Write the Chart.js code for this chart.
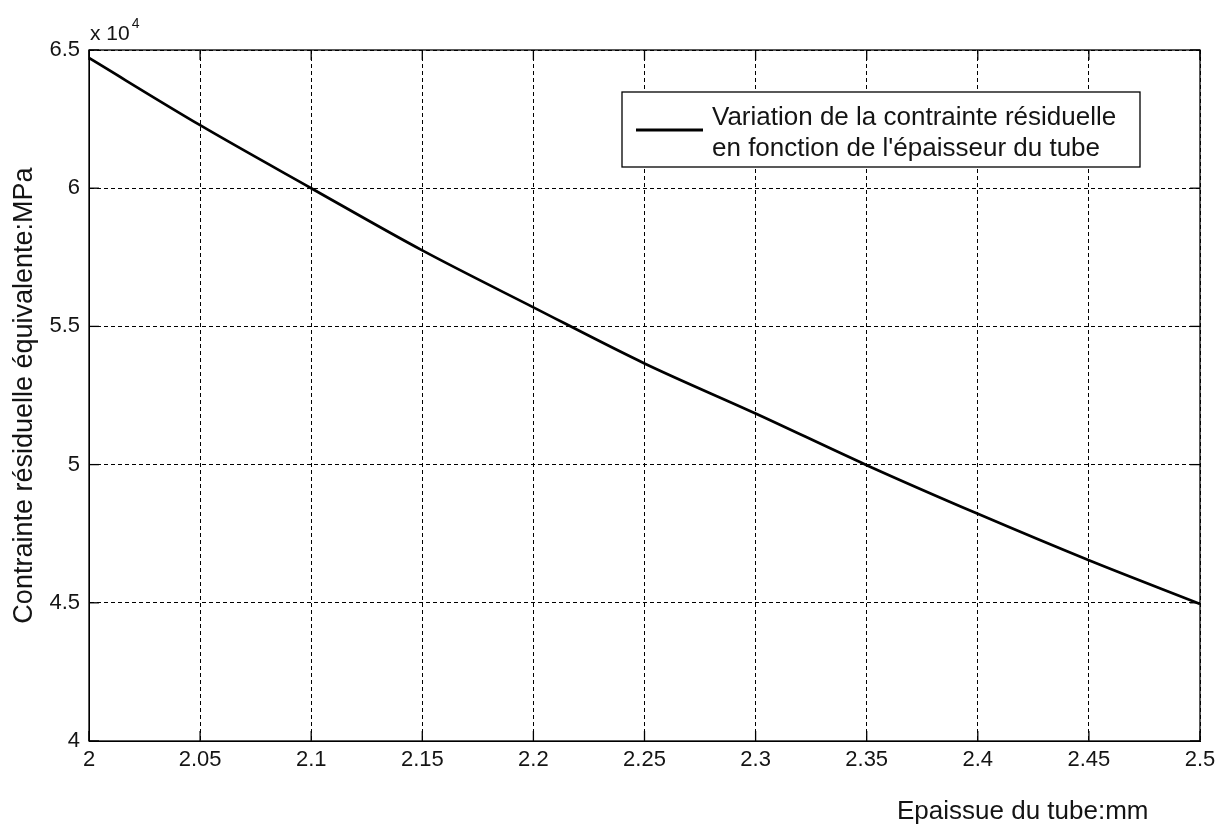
<!DOCTYPE html>
<html>
<head>
<meta charset="utf-8">
<script src="https://cdn.jsdelivr.net/npm/chart.js@4"></script>
<style>
  html, body { margin: 0; padding: 0; background: #fff; }
  #wrap { width: 1229px; height: 826px; }
</style>
</head>
<body>
<div id="wrap"><canvas id="mycanvas" width="1229" height="826"></canvas></div>
<script>
// epaisseur du tube (mm)
var thickness = [2, 2.05, 2.1, 2.15, 2.2, 2.25, 2.3, 2.35, 2.4, 2.45, 2.5];
// contrainte residuelle equivalente (MPa)
var stress = [64710, 62280, 60000, 57750, 55690, 53660, 51850, 49980, 48220, 46540, 44960];

var xTicks = [2, 2.05, 2.1, 2.15, 2.2, 2.25, 2.3, 2.35, 2.4, 2.45, 2.5];
var yTicks = [40000, 45000, 50000, 55000, 60000, 65000];

var seriesLabel = ["Variation de la contrainte résiduelle", "en fonction de l'épaisseur du tube"];
var xTitle = "Epaissue du tube:mm";
var yTitle = "Contrainte résiduelle équivalente:MPa";

var FONT = '"Liberation Sans", Arial, sans-serif';
var TXT = '#141414';

var points = [];
for (var i in thickness) {
	points.push({x: thickness[i], y: stress[i]});
}

function seg(ctx, x1, y1, x2, y2) {
	ctx.beginPath();
	ctx.moveTo(x1, y1);
	ctx.lineTo(x2, y2);
	ctx.stroke();
}

// box, inward ticks, exponent, legend and x title (matlab look)
var matlabLook = {
	id: 'matlabLook',
	afterDraw: function(chart) {
		var ctx = chart.ctx, a = chart.chartArea;
		var sx = chart.scales.x, sy = chart.scales.y;
		ctx.save();
		ctx.strokeStyle = '#000';
		ctx.lineWidth = 1.3;
		ctx.setLineDash([]);
		ctx.strokeRect(a.left, a.top, a.right - a.left, a.bottom - a.top);

		xTicks.forEach(function(v) {
			var px = sx.getPixelForValue(v);
			seg(ctx, px, a.bottom, px, a.bottom - 10);
			seg(ctx, px, a.top, px, a.top + 10);
		});
		yTicks.forEach(function(v) {
			var py = sy.getPixelForValue(v);
			seg(ctx, a.left, py, a.left + 10, py);
			seg(ctx, a.right, py, a.right - 10, py);
		});

		ctx.fillStyle = TXT;
		ctx.textBaseline = 'alphabetic';
		ctx.textAlign = 'left';
		ctx.font = '21px ' + FONT;
		ctx.fillText('x 10', a.left + 1, a.top - 10);
		var w = ctx.measureText('x 10').width;
		ctx.font = '14px ' + FONT;
		ctx.fillText('4', a.left + 3 + w, a.top - 22);

		// legend
		var lx = 622, ly = 92, lw = 518, lh = 75;
		ctx.fillStyle = '#fff';
		ctx.fillRect(lx, ly, lw, lh);
		ctx.strokeStyle = '#000';
		ctx.lineWidth = 1.3;
		ctx.strokeRect(lx, ly, lw, lh);
		ctx.lineWidth = 3;
		seg(ctx, 636, 130, 703, 130);
		ctx.fillStyle = TXT;
		ctx.font = '26px ' + FONT;
		ctx.fillText(seriesLabel[0], 712, 125);
		ctx.fillText(seriesLabel[1], 712, 156);

		// x axis title
		ctx.fillText(xTitle, 897, 819);
		ctx.restore();
	}
};

var ctx = document.getElementById('mycanvas').getContext('2d');

var lineGraph = new Chart(ctx, {
	type: 'line',
	data: {
		datasets: [{
			label: seriesLabel.join(' '),
			data: points,
			borderColor: '#000',
			borderWidth: 2.7,
			pointRadius: 0,
			fill: false,
			cubicInterpolationMode: 'monotone'
		}]
	},
	options: {
		responsive: false,
		animation: false,
		layout: { padding: { left: 0, top: 50, right: 29, bottom: 0 } },
		plugins: {
			legend: { display: false },
			tooltip: { enabled: false }
		},
		scales: {
			x: {
				type: 'linear',
				min: 2,
				max: 2.5,
				afterBuildTicks: function(s) { s.ticks = xTicks.map(function(v) { return {value: v}; }); },
				afterFit: function(s) { s.height = 85; },
				ticks: {
					color: TXT,
					font: { family: FONT, size: 22 },
					padding: 6,
					maxRotation: 0,
					autoSkip: false,
					callback: function(v) { return String(+v.toFixed(2)); }
				},
				grid: { color: '#000', lineWidth: 1, drawTicks: false },
				border: { display: true, color: '#000', dash: [4, 3] }
			},
			y: {
				type: 'linear',
				min: 40000,
				max: 65000,
				afterBuildTicks: function(s) { s.ticks = yTicks.map(function(v) { return {value: v}; }); },
				afterFit: function(s) { s.width = 89; },
				ticks: {
					color: TXT,
					font: { family: FONT, size: 22 },
					padding: 9,
					autoSkip: false,
					callback: function(v) { return String(v / 10000); }
				},
				grid: { color: '#000', lineWidth: 1, drawTicks: false },
				border: { display: true, color: '#000', dash: [4, 3] },
				title: {
					display: true,
					text: yTitle,
					color: TXT,
					font: { family: FONT, size: 27 },
					padding: { top: 8, bottom: 0 }
				}
			}
		}
	},
	plugins: [matlabLook]
});
</script>
</body>
</html>
